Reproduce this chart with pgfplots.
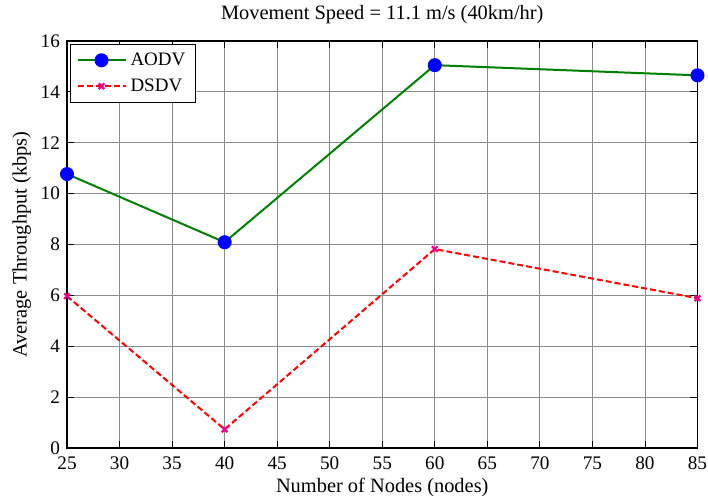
\documentclass[border=0pt]{standalone}
\usepackage{fontspec}
\setmainfont{Liberation Serif}
\usepackage{pgfplots}
\pgfplotsset{compat=1.18}
\begin{document}
\begin{tikzpicture}
\begin{axis}[
  name=ax,
  scale only axis,
  width=315.2pt, height=203.5pt,
  xmin=25, xmax=85, ymin=0, ymax=16,
  xtick={25,30,...,85}, ytick={0,2,...,16},
  xticklabels={25,30,35,40,45,50,55,60,65,70,75,80,85},
  yticklabels={0,2,4,6,8,10,12,14,16},
  tick label style={font=\fontsize{9.6}{11}\selectfont},
  xticklabel style={yshift=-1pt},
  label style={font=\fontsize{10.2}{12}\selectfont},
  title style={font=\fontsize{10.2}{12}\selectfont, yshift=-1.2pt},
  title={Movement Speed = 11.1 m/s (40km/hr)},
  xlabel={Number of Nodes (nodes)},
  ylabel={Average Throughput (kbps)},
  xlabel style={yshift=3pt},
  ylabel style={yshift=-2pt},
  grid=major,
  major grid style={black!45, line width=0.4pt},
  axis line style={black, line width=0.6pt},
  tick align=inside,
  tick pos=both,
  major tick length=3.5pt,
  tick style={black, line width=0.4pt},
  legend style={draw=black, line width=0.5pt, font=\fontsize{9.5}{11}\selectfont, at={(0,1)}, xshift=1.5pt, yshift=-1.5pt, anchor=north west, inner xsep=3pt, inner ysep=2pt, row sep=1.2pt},
  legend cell align=left,
  legend image code/.code={
    \draw[mark repeat=2,mark phase=2] plot coordinates {(0pt,0pt) (12pt,0pt) (24pt,0pt)};
  },
]
\addplot[color={rgb,1:red,0;green,0.5;blue,0}, line width=1pt, mark=*, mark size=3pt, mark options={solid, fill=blue, draw=blue}]
  coordinates {(25,10.77) (40,8.09) (60,15.05) (85,14.65)};
\addlegendentry{AODV}
\addplot[color=red, dash pattern=on 3pt off 1.5pt, line width=1pt, mark=x, mark size=2pt, mark options={solid, draw=magenta, line width=1.1pt}]
  coordinates {(25,5.97) (40,0.735) (60,7.82) (85,5.89)};
\addlegendentry{DSDV}
\end{axis}
\pgfresetboundingbox
\path[use as bounding box] ([xshift=-33.5pt,yshift=-23.5pt]ax.south west) rectangle ([xshift=5.25pt,yshift=20.5pt]ax.north east);
\end{tikzpicture}
\end{document}
